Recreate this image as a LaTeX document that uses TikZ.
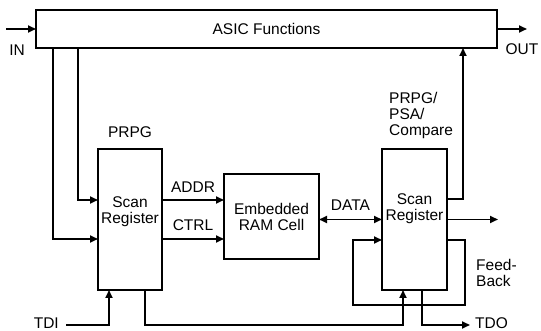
\documentclass[tikz,border=0pt]{standalone}
\usepackage{fontspec}
\setmainfont{Liberation Sans}
\usepackage{tikz}
\usetikzlibrary{arrows.meta, positioning}
\tikzset{
  bist/box/.style={rectangle, draw=black, fill=white, line width=1.8pt,
    inner sep=0pt, outer sep=0pt, font=\fontsize{15.5}{16}\selectfont, align=center},
  bist/txt/.style={font=\fontsize{15.5}{16}\selectfont, align=center, inner sep=0pt},
  bist/lbl/.style={font=\fontsize{15.5}{16}\selectfont, align=left, inner sep=0pt},
  bist/wire/.style={line width=1.8pt, draw=black},
  bist/arr/.style={bist/wire, -{Triangle[length=8pt,width=7pt]}},
  bist/arr2/.style={bist/wire,
    {Triangle[length=8pt,width=7pt]}-{Triangle[length=8pt,width=7pt]}}
}

\begin{document}
\begin{tikzpicture}[x=1pt, y=1pt]
  \useasboundingbox (0,0) rectangle (541,331);
  \node[bist/box, minimum width=461pt, minimum height=38pt] (asic) at (266.5,302) {ASIC Functions};
  \node[bist/box, minimum width=64pt, minimum height=141pt] (prpg) at (130,111.5) {};
  \node[bist/box, minimum width=95pt, minimum height=85pt, right=62pt of prpg, yshift=3pt] (ram) {Embedded\\RAM Cell};
  \node[bist/box, minimum width=65pt, minimum height=141pt, right=63pt of ram, yshift=-3pt] (psa) {};
  \node[bist/txt] (prpgtxt) at ([yshift=8pt]prpg.center) {Scan\\Register};
  \node[bist/txt] (psatxt) at ([yshift=11pt]psa.center) {Scan\\Register};
  \node[bist/txt, above=11.5pt of prpg] (prpglbl) {PRPG};
  \node[bist/lbl, anchor=south west] (psalbl) at ([xshift=7pt,yshift=10pt]psa.north west) {PRPG/\\PSA/\\Compare};
  \node[bist/lbl, anchor=south west] (fblbl) at ([xshift=29pt,yshift=3pt]psa.south east) {Feed-\\Back};

  % primary in/out
  \coordinate (in) at (6,302);
  \coordinate (out) at (527,302);
  \draw[bist/arr] (in) -- (asic.west);
  \draw[bist/arr] (asic.east) -- (out);
  \node[bist/lbl] (inlbl) at (17,281) {IN};
  \node[bist/lbl] (outlbl) at (522,282) {OUT};

  % taps from the functional logic
  \draw[bist/arr] ([xshift=17pt]asic.south west) |- ([yshift=-19.5pt]prpg.west);
  \draw[bist/arr] ([xshift=42pt]asic.south west) |- ([yshift=19.5pt]prpg.west);

  % address / control / data
  \coordinate (addr) at ([yshift=19.5pt]prpg.east);
  \coordinate (ctrl) at ([yshift=-19.5pt]prpg.east);
  \draw[bist/arr] (addr) -- (addr -| ram.west) node[bist/txt, midway, above=7pt] (addrlbl) {ADDR};
  \draw[bist/arr] (ctrl) -- (ctrl -| ram.west) node[bist/txt, midway, above=7pt] (ctrllbl) {CTRL};
  \draw[bist/arr2] (ram.east |- psa.west) -- (psa.west) node[bist/txt, midway, above=8pt] (datalbl) {DATA};

  % compare result and outputs
  \coordinate (up) at ([yshift=20.5pt]psa.east);
  \draw[bist/arr] (up) -| ([xshift=-34pt]asic.south east);
  \coordinate (dout) at ([xshift=51pt]psa.east);
  \draw[bist/arr] (psa.east) -- (dout);

  % feedback loop
  \coordinate (fbout) at ([yshift=-20.5pt]psa.east);
  \coordinate (fbin) at ([yshift=-20.5pt]psa.west);
  \coordinate (fbcorner) at (353,26);
  \draw[bist/arr] (fbout) -- ++(18,0) |- (fbcorner) |- (fbin);

  % scan chain
  \coordinate (tdi) at (66,6);
  \coordinate (tdo) at (470,6);
  \coordinate (scanin) at ([xshift=-11.5pt]psa.south);
  \coordinate (tdoport) at ([xshift=7.5pt]psa.south);
  \draw[bist/arr] (tdi) -| ([xshift=-21pt]prpg.south);
  \draw[bist/arr] ([xshift=15pt]prpg.south) |- (scanin |- tdi) -- (scanin);
  \draw[bist/arr] (tdoport) |- (tdo);
  \node[bist/lbl, left=7pt of tdi, yshift=1.5pt] (tdilbl) {TDI};
  \node[bist/lbl, right=5pt of tdo, yshift=1.5pt] (tdolbl) {TDO};
\end{tikzpicture}
\end{document}
